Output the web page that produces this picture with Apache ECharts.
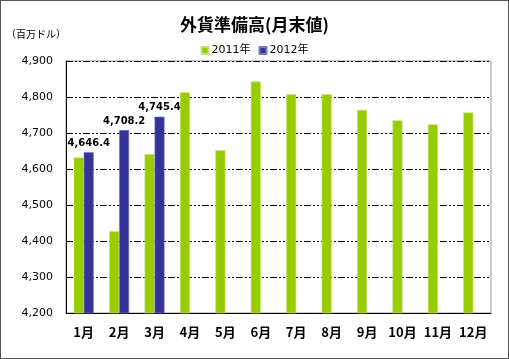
<!DOCTYPE html>
<html><head><meta charset="utf-8">
<script src="https://cdn.jsdelivr.net/npm/echarts@6/dist/echarts.min.js"></script>
<style>
html,body{margin:0;padding:0;background:#fff;}
#c{width:509px;height:359px;box-sizing:border-box;border:1px solid #555;}
</style></head><body>
<div id="c"></div>
<script>
const categories = ['1月','2月','3月','4月','5月','6月','7月','8月','9月','10月','11月','12月'];
const values2011 = [4632, 4427, 4641, 4813, 4652, 4843, 4808, 4808, 4764, 4735, 4724, 4757];
const values2012 = [4646.4, 4708.2, 4745.4, null, null, null, null, null, null, null, null, null];
const yTicks = [4200, 4900, 100];

const chart = echarts.init(document.getElementById('c'), null, {renderer:'canvas'});
const fmt = v => v.toLocaleString('en-US');
chart.setOption({
  animation:false,
  backgroundColor:'#fff',
  title:{text:'外貨準備高(月末値)',left:'center',top:10,
    textStyle:{fontFamily:'Noto Sans CJK JP',fontWeight:'bold',fontSize:17,color:'#000'}},
  graphic:[{type:'text',left:5,top:28,style:{text:'（百万ドル）',fontFamily:'Noto Sans CJK JP',fontSize:10,fill:'#000'}}],
  legend:{top:39,left:'center',itemWidth:7,itemHeight:7,itemGap:8,icon:'rect',
    textStyle:{fontFamily:'DejaVu Sans, Noto Sans CJK JP',fontSize:11,color:'#000',padding:[0,0,0,-2]},
    data:['2011年','2012年']},
  grid:{left:65,right:17,top:60,bottom:45,show:true,borderColor:'#999',borderWidth:1},
  xAxis:{type:'category',data:categories,
    axisLine:{lineStyle:{color:'#000',width:1}},
    axisTick:{inside:true,length:4,lineStyle:{color:'#555'}},
    axisLabel:{interval:0,margin:13,fontFamily:'Noto Sans CJK JP',fontWeight:'bold',fontSize:13,color:'#000'}},
  yAxis:{type:'value',min:yTicks[0],max:yTicks[1],interval:yTicks[2],
    axisLine:{show:true,lineStyle:{color:'#000',width:1}},
    axisTick:{show:false},
    axisLabel:{margin:13,fontFamily:'DejaVu Sans',fontSize:11,color:'#000',formatter:fmt},
    splitLine:{lineStyle:{color:'#000',width:1,type:[7,2,2,2,2,2]}}},
  series:[
    {name:'2011年',type:'bar',data:values2011,barWidth:10,barGap:'0%',
     itemStyle:{color:'#99CC00',borderColor:'#C4E27A',borderWidth:0.6}},
    {name:'2012年',type:'bar',data:values2012,barWidth:10,barGap:'0%',
     itemStyle:{color:'#333399',borderColor:'#7A7ABF',borderWidth:0.6},
     label:{show:true,position:'top',distance:4,fontFamily:'DejaVu Sans',fontWeight:'bold',fontSize:10,color:'#000',
       formatter:p=>p.value==null?'':p.value.toLocaleString('en-US',{minimumFractionDigits:1})}}
  ]
});
</script></body></html>
